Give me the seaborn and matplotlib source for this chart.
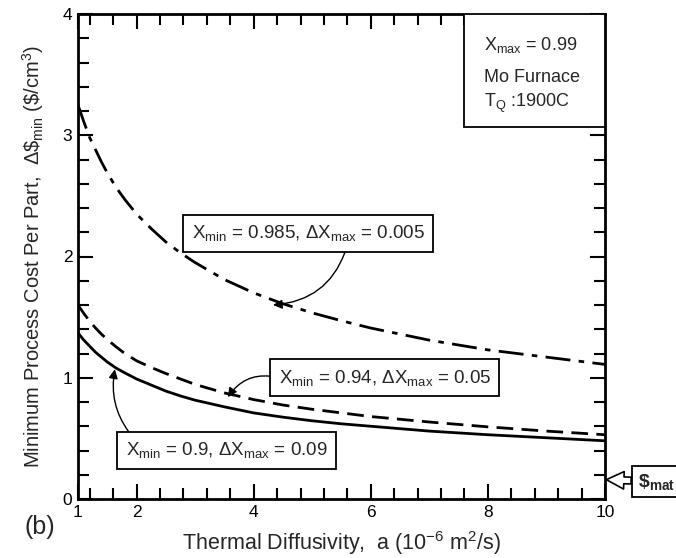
import numpy as np
import pandas as pd
import matplotlib
matplotlib.use("Agg")
import matplotlib.pyplot as plt
import seaborn as sns
from matplotlib.patches import Rectangle
from matplotlib.ticker import MultipleLocator, FixedLocator

# ---- data ----
diffusivity = [1, 1.1, 1.2, 1.3, 1.4, 1.5, 1.65, 1.8, 2, 2.25, 2.5, 2.75, 3, 3.5, 4, 4.5, 5, 5.5, 6, 7, 8, 9, 10]
cost_090 = [1.37, 1.31, 1.26, 1.21, 1.17, 1.13, 1.08, 1.04, 0.99, 0.94, 0.89, 0.85, 0.815, 0.76, 0.71,
            0.675, 0.645, 0.62, 0.60, 0.56, 0.53, 0.505, 0.48]
cost_094 = [1.60, 1.53, 1.465, 1.41, 1.36, 1.315, 1.255, 1.20, 1.14, 1.085, 1.035, 0.99, 0.945, 0.875, 0.82,
            0.775, 0.74, 0.71, 0.68, 0.635, 0.595, 0.56, 0.53]
cost_0985 = [3.25, 3.11, 2.98, 2.88, 2.78, 2.69, 2.57, 2.47, 2.35, 2.23, 2.12, 2.03, 1.95, 1.81, 1.70,
             1.61, 1.535, 1.47, 1.41, 1.31, 1.23, 1.17, 1.11]
x_major_ticks = [1, 2, 4, 6, 8, 10]
y_major_ticks = [0, 1, 2, 3, 4]
mat_cost = 0.16

sns.set_style("ticks")
plt.rcParams['font.family'] = ['Liberation Sans', 'DejaVu Sans']
plt.rcParams['mathtext.fontset'] = 'custom'
plt.rcParams['mathtext.rm'] = 'Liberation Sans'
plt.rcParams['mathtext.it'] = 'Liberation Sans:italic'
plt.rcParams['mathtext.bf'] = 'Liberation Sans:bold'

fig = plt.figure(figsize=(6.76, 5.58), dpi=100)
ax = fig.add_axes([78/676, 1-499/558, (605-78)/676, (499-14)/558])

df = pd.DataFrame({"a": diffusivity, "s090": cost_090, "s094": cost_094, "s0985": cost_0985})
sns.lineplot(data=df, x="a", y="s090", ax=ax, color="black", lw=2.0, linestyle="-")
sns.lineplot(data=df, x="a", y="s094", ax=ax, color="black", lw=2.0, dashes=False)
sns.lineplot(data=df, x="a", y="s0985", ax=ax, color="black", lw=2.0, dashes=False)
ax.lines[1].set_dashes([6, 3])
ax.lines[2].set_dashes([9, 3, 2, 3])

ax.set_xlim(1, 10)
ax.set_ylim(0, 4)
ax.xaxis.set_major_locator(FixedLocator(x_major_ticks))
ax.xaxis.set_minor_locator(FixedLocator(np.arange(1.2, 10.01, 0.4)))
ax.yaxis.set_major_locator(FixedLocator(y_major_ticks))
ax.yaxis.set_minor_locator(MultipleLocator(0.2))
ax.tick_params(which='both', direction='in', top=True, right=True, width=1.5, labelsize=12.5, colors='black')
ax.tick_params(which='major', length=11, pad=4)
ax.tick_params(which='minor', length=8)
for sp in ax.spines.values():
    sp.set_linewidth(2)
    sp.set_color('black')

ax.set_xlabel(r"Thermal Diffusivity,  a (10$^{-6}$ m$^2$/s)", fontsize=15.5, labelpad=7)
ax.set_ylabel(r"Minimum Process Cost Per Part,  $\Delta\$_{\rm min}$ (\$/cm$^3$)", fontsize=14.5, labelpad=12)

box = dict(boxstyle='square,pad=0.45', fc='white', ec='black', lw=1.3)
ax.annotate(r"X$_{\rm min}$ = 0.985, $\Delta$X$_{\rm max}$ = 0.005", xy=(4.33, 1.60), xytext=(4.93, 2.19),
            ha='center', va='center', fontsize=13.5, bbox=box,
            arrowprops=dict(arrowstyle='-|>', color='black', lw=1, shrinkA=0, shrinkB=0,
                            connectionstyle='arc3,rad=-0.35', relpos=(0.67, 0.0)))
ax.annotate(r"X$_{\rm min}$ = 0.94, $\Delta$X$_{\rm max}$ = 0.05", xy=(3.56, 0.84), xytext=(6.24, 1.00),
            ha='center', va='center', fontsize=13.5, bbox=box,
            arrowprops=dict(arrowstyle='-|>', color='black', lw=1, shrinkA=0, shrinkB=0,
                            connectionstyle='arc3,rad=0.35', relpos=(0.0, 0.5)))
ax.annotate(r"X$_{\rm min}$ = 0.9, $\Delta$X$_{\rm max}$ = 0.09", xy=(1.63, 1.07), xytext=(3.54, 0.40),
            ha='center', va='center', fontsize=13.5, bbox=box,
            arrowprops=dict(arrowstyle='-|>', color='black', lw=1, shrinkA=0, shrinkB=0,
                            connectionstyle='arc3,rad=-0.25', relpos=(0.05, 1.0)))

# info box top right
ax.add_patch(Rectangle((0.732, 0.767), 0.268, 0.233, transform=ax.transAxes, fc='white', ec='black', lw=1.3, zorder=5))
ax.text(0.770, 0.936, r"X$_{\rm max}$ = 0.99", transform=ax.transAxes, fontsize=13, va='center', zorder=6)
ax.text(0.770, 0.870, "Mo Furnace", transform=ax.transAxes, fontsize=13, va='center', zorder=6)
ax.text(0.770, 0.816, r"T$_{\rm Q}$ :1900C", transform=ax.transAxes, fontsize=13, va='center', zorder=6)

# $mat marker outside axes
ax.annotate(r"$\mathbf{\$}_{\mathbf{mat}}$", xy=(1.0, mat_cost), xycoords=('axes fraction', 'data'),
            xytext=(1.097, 0.036), textcoords='axes fraction', ha='center', va='center', fontsize=14,
            annotation_clip=False,
            bbox=dict(boxstyle='square,pad=0.3', fc='white', ec='black', lw=1.3),
            arrowprops=dict(arrowstyle='simple,head_width=0.9,head_length=0.9,tail_width=0.35',
                            fc='white', ec='black', lw=1.2, shrinkA=0, shrinkB=1))

fig.text(40/676, 1-527/558, "(b)", fontsize=18, ha='center', va='center')

fig.savefig("out.png", dpi=100)
